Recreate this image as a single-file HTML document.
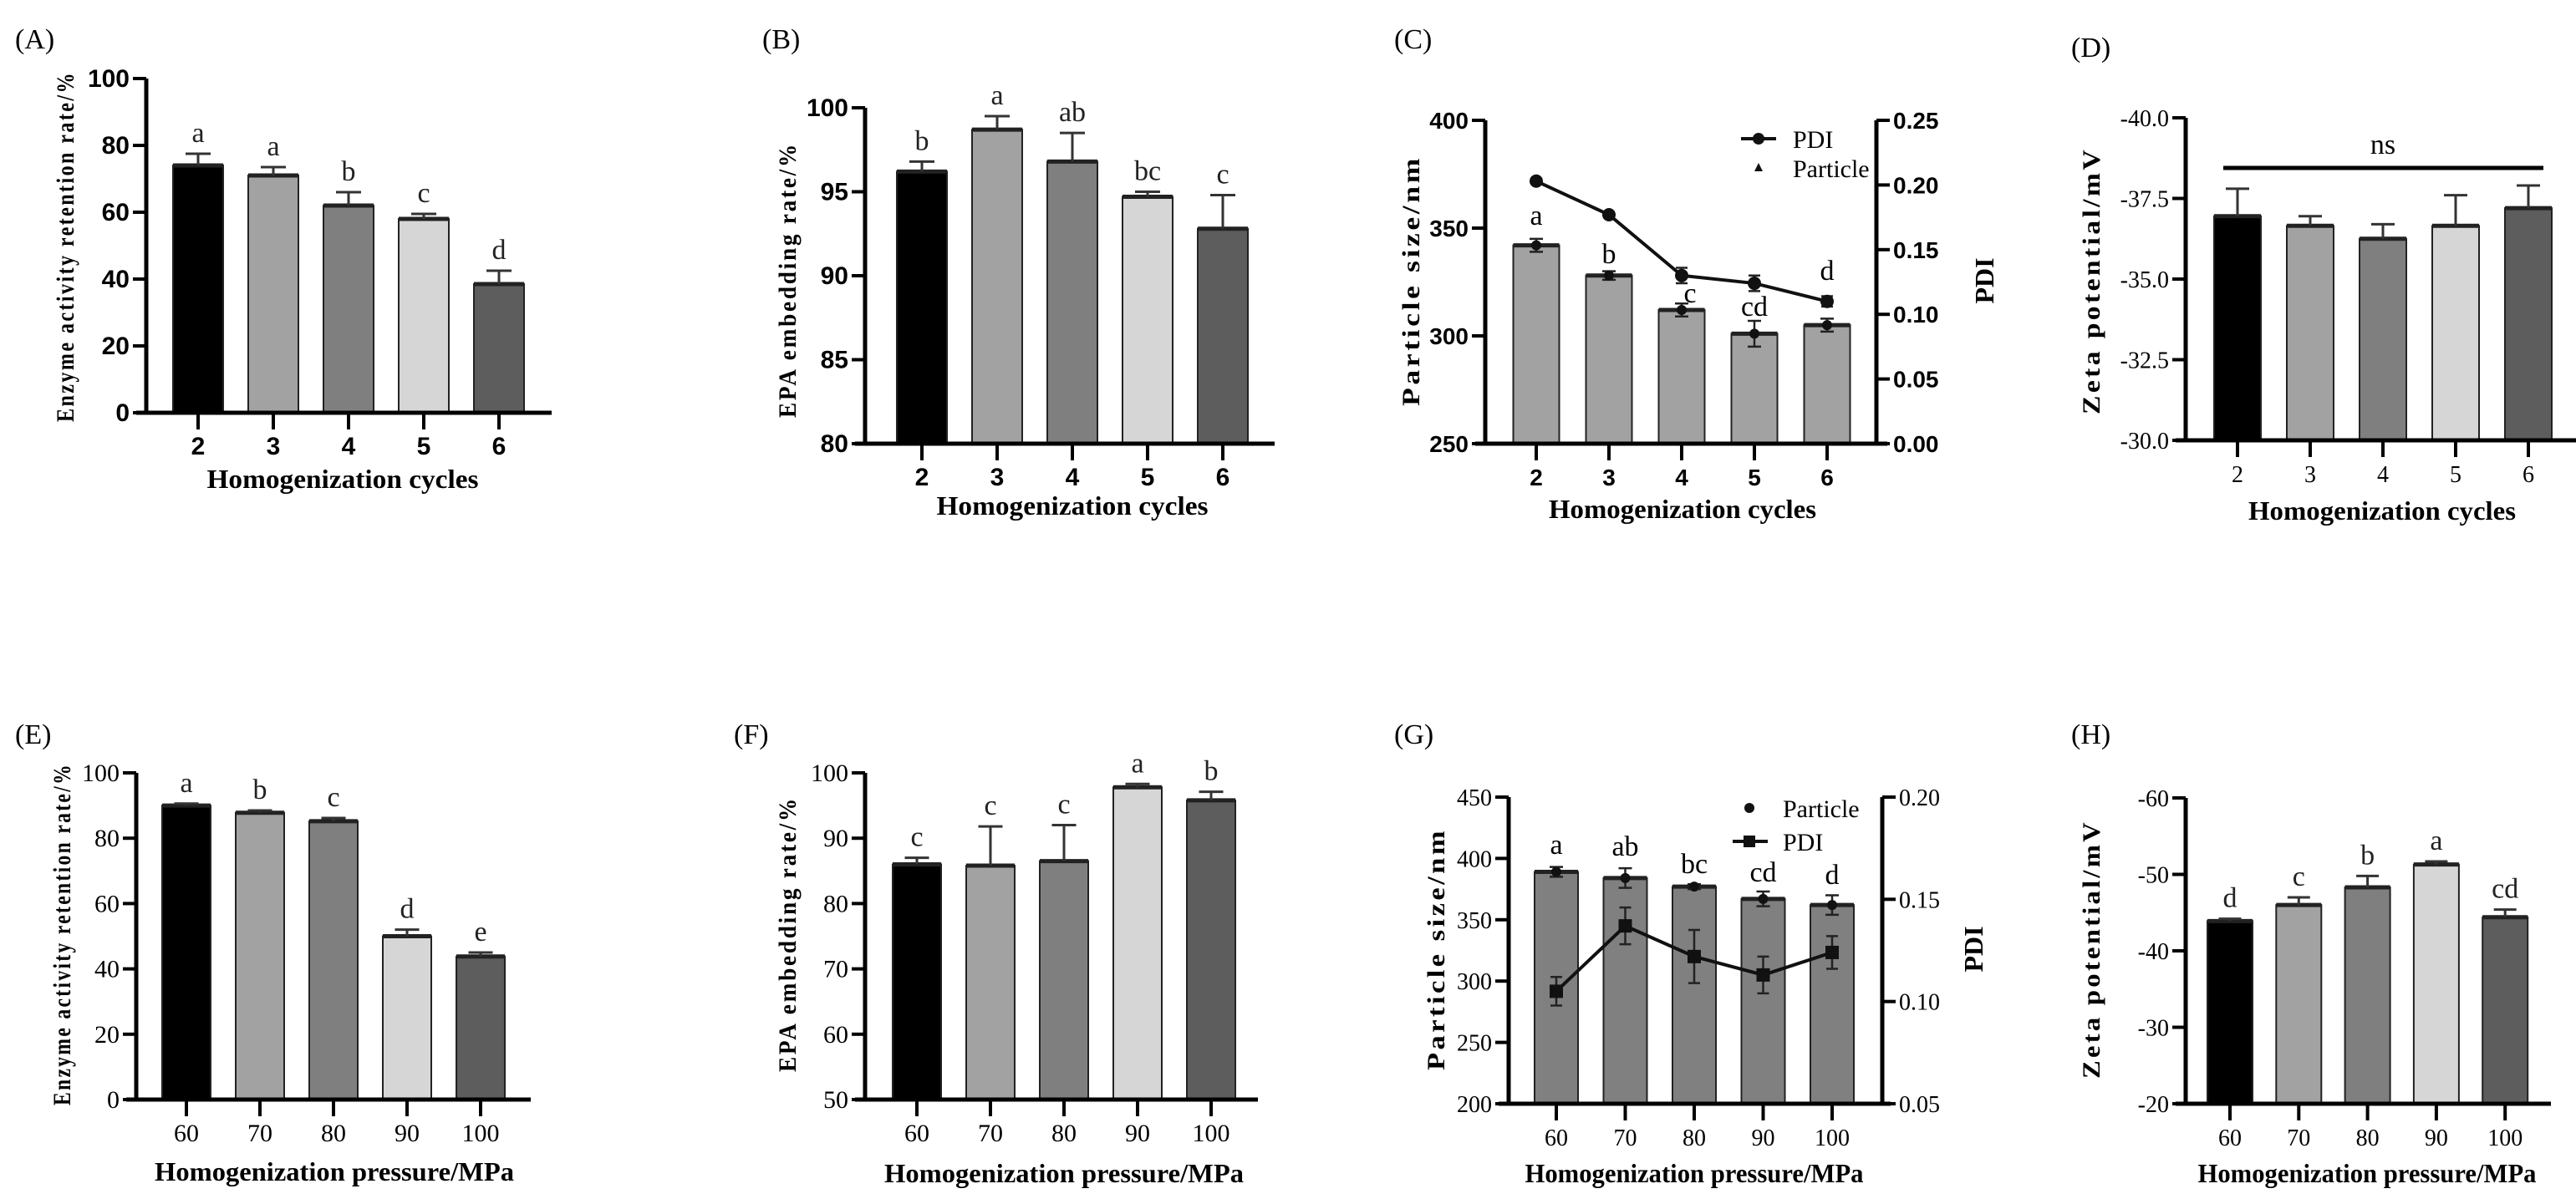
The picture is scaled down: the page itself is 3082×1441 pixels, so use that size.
<!DOCTYPE html>
<html><head><meta charset="utf-8"><style>
html,body{margin:0;padding:0;background:#fff;}
svg{display:block;}
.ser{font-family:"Liberation Serif",serif;}
.san{font-family:"Liberation Sans",sans-serif;}
</style></head><body>
<svg id="fig" width="3082" height="1441" viewBox="0 0 3082 1441" xmlns="http://www.w3.org/2000/svg"></svg>
<script>
const cyclesCats = ['2','3','4','5','6'];
const pressureCats = ['60','70','80','90','100'];
const aVals = [74, 71, 62, 58, 38.5];
const aErr = [3.5, 2.5, 4, 1.5, 4];
const aLetters = ['a','a','b','c','d'];
const bVals = [96.2, 98.7, 96.8, 94.7, 92.8];
const bErr = [0.6, 0.8, 1.7, 0.3, 2.0];
const bLetters = ['b','a','ab','bc','c'];
const cParticle = [342, 328, 312, 301, 305];
const cParticleErr = [3, 2, 3, 6, 3];
const cPdi = [0.203, 0.177, 0.130, 0.124, 0.110];
const cPdiErr = [0.002, 0.002, 0.006, 0.006, 0.004];
const cLetters = ['a','b','c','cd','d'];
const dVals = [-36.95, -36.65, -36.25, -36.65, -37.2];
const dErr = [0.85, 0.3, 0.45, 0.95, 0.7];
const eVals = [90, 87.8, 85.2, 50, 43.8];
const eErr = [0.6, 0.7, 1.0, 2.0, 1.2];
const eLetters = ['a','b','c','d','e'];
const fVals = [86, 85.8, 86.5, 97.8, 95.8];
const fErr = [1.0, 6.0, 5.5, 0.5, 1.3];
const fLetters = ['c','c','c','a','b'];
const gParticle = [389, 384, 377, 367, 362];
const gParticleErr = [4, 8, 2, 6, 8];
const gPdi = [0.105, 0.137, 0.122, 0.113, 0.124];
const gPdiErr = [0.007, 0.009, 0.013, 0.009, 0.008];
const gLetters = ['a','ab','bc','cd','d'];
const hVals = [-43.9, -46.0, -48.3, -51.3, -44.4];
const hErr = [0.3, 1.0, 1.5, 0.4, 1.0];
const hLetters = ['d','c','b','a','cd'];
const ticksA = [0,20,40,60,80,100];
const ticksB = [80,85,90,95,100];
const ticksCL = [250,300,350,400];
const ticksCR = ['0.00','0.05','0.10','0.15','0.20','0.25'];
const ticksD = ['-40.0','-37.5','-35.0','-32.5','-30.0'];
const ticksE = [0,20,40,60,80,100];
const ticksF = [50,60,70,80,90,100];
const ticksGL = [200,250,300,350,400,450];
const ticksGR = ['0.05','0.10','0.15','0.20'];
const ticksH = [-60,-50,-40,-30,-20];
const colorsFive = ['#000000','#a2a2a2','#7f7f7f','#d6d6d6','#5d5d5d'];

const svg = document.getElementById('fig');
const NS = 'http://www.w3.org/2000/svg';
function mk(tag, attrs, parent, text){
  const e = document.createElementNS(NS, tag);
  for (const k in attrs) e.setAttribute(k, attrs[k]);
  if (text !== undefined) e.textContent = text;
  (parent || svg).appendChild(e);
  return e;
}
function scale(min, max, pMin, pMax){ return v => pMin + (v - min) / (max - min) * (pMax - pMin); }

function panel(o){
  const g = mk('g', {});
  
  
  const y = scale(o.min, o.max, o.yb, o.yt);
  const x = i => o.x0 + i * o.dx;
  const lab = mk('text', {x:o.lx, y:o.ly, 'font-size':34, class:'ser'}, g, o.label);
  
  
  if (o.vals){
    o.vals.forEach((v,i)=>{
      const top = y(v), bot = o.yb;
      const r = mk('rect', {x:x(i)-o.bw/2, y:Math.min(top,bot), width:o.bw, height:Math.abs(bot-top), fill:o.colors[i], stroke:'#222', 'stroke-width':2}, g);
      
      
      mk('line', {x1:x(i)-o.bw/2, x2:x(i)+o.bw/2, y1:top, y2:top, stroke:'#222', 'stroke-width':5}, g);
      if (o.errs){
        const et = y(v + (o.inv ? -o.errs[i] : o.errs[i]));
        const eb = mk('path', {d:`M${x(i)} ${top} V${et} M${x(i)-o.bw/4} ${et} H${x(i)+o.bw/4}`, stroke:'#333', 'stroke-width':3, fill:'none'}, g);
        
        
      }
      if (o.letters){
        const et = o.errs ? y(v + (o.inv ? -o.errs[i] : o.errs[i])) : top;
        const t = mk('text', {x:x(i), y:et - 14, 'text-anchor':'middle', 'font-size':34, class:'ser', fill:'#222'}, g, o.letters[i]);
        
        
      }
    });
  }
  const ax = mk('path', {d:`M${o.ax} ${o.yt} V${o.yb} M${o.ax-12} ${o.yb} H${o.xEnd}`, stroke:'#000', 'stroke-width':5, fill:'none'}, g);
  
  
  o.ticks.forEach(t=>{
    const ty = y(parseFloat(t));
    mk('line', {x1:o.ax-16, x2:o.ax, y1:ty, y2:ty, stroke:'#000', 'stroke-width':4}, g);
    const tl = mk('text', {x:o.ax-20, y:ty+10, 'text-anchor':'end', 'font-size':o.tfs||28, 'font-weight':o.tbold?'bold':'normal', class:o.tfont||'ser'}, g, String(t));
    
    
  });
  o.cats.forEach((c,i)=>{
    mk('line', {x1:x(i), x2:x(i), y1:o.yb, y2:o.yb+20, stroke:'#000', 'stroke-width':4}, g);
    const tl = mk('text', {x:x(i), y:o.yb+50, 'text-anchor':'middle', 'font-size':o.tfs||28, 'font-weight':o.tbold?'bold':'normal', class:o.tfont||'ser'}, g, c);
    
    
  });
  const xt = mk('text', {x:o.xtx, y:o.xty, 'text-anchor':'middle', 'font-size':32, 'font-weight':'bold', class:'ser', textLength:o.xtl, lengthAdjust:'spacingAndGlyphs'}, g, o.xtitle);
  
  
  const yt = mk('text', {x:0, y:0, 'text-anchor':'middle', 'font-size':30, 'font-weight':'bold', class:'ser', 'letter-spacing':3, transform:`translate(${o.ytx},${o.yty}) rotate(-90)`, textLength:o.ytl, lengthAdjust:'spacingAndGlyphs'}, g, o.ytitle);
  
  
  return {g, x, y};
}

function dualPanel(o){
  const p = panel(o);
  const g = p.g;
  const yr = scale(o.rmin, o.rmax, o.yb, o.yt);
  mk('path', {d:`M${o.rax} ${o.yt} V${o.yb+2}`, stroke:'#000', 'stroke-width':5}, g);
  o.rticks.forEach(t=>{
    const ty = yr(parseFloat(t));
    mk('line', {x1:o.rax, x2:o.rax+16, y1:ty, y2:ty, stroke:'#000', 'stroke-width':4}, g);
    const tl = mk('text', {x:o.rax+20, y:ty+10, 'font-size':o.tfs||28, 'font-weight':o.tbold?'bold':'normal', class:o.tfont||'ser'}, g, t);
    
    
  });
  const rt = mk('text', {x:0, y:0, 'text-anchor':'middle', 'font-size':32, 'font-weight':'bold', class:'ser', transform:`translate(${o.rtx},${o.yty}) rotate(-90)`}, g, 'PDI');
  
  
  o.vals.forEach((v,i)=>{
    const a = p.y(v + o.pErr[i]), b = p.y(v - o.pErr[i]);
    mk('path', {d:`M${p.x(i)} ${a} V${b} M${p.x(i)-8} ${a} H${p.x(i)+8} M${p.x(i)-8} ${b} H${p.x(i)+8}`, stroke:'#222', 'stroke-width':2.5, fill:'none'}, g);
    const m = mk('circle', {cx:p.x(i), cy:p.y(v), r:6, fill:'#111'}, g);
    
    
  });
  const pts = o.pdi.map((v,i)=>`${p.x(i)},${yr(v)}`).join(' ');
  const ln = mk('polyline', {points:pts, fill:'none', stroke:'#111', 'stroke-width':4}, g);
  
  
  o.pdi.forEach((v,i)=>{
    const a = yr(v + o.pdiErr[i]), b = yr(v - o.pdiErr[i]);
    mk('path', {d:`M${p.x(i)} ${a} V${b} M${p.x(i)-7} ${a} H${p.x(i)+7} M${p.x(i)-7} ${b} H${p.x(i)+7}`, stroke:'#222', 'stroke-width':2.5, fill:'none'}, g);
    const m = o.square ? mk('rect', {x:p.x(i)-8, y:yr(v)-8, width:16, height:16, fill:'#111'}, g) : mk('circle', {cx:p.x(i), cy:yr(v), r:8, fill:'#111'}, g);
    
    
  });
  return p;
}

panel({name:'panel-a', label:'(A)', lx:18, ly:58, cats:cyclesCats, vals:aVals, errs:aErr, letters:aLetters, colors:colorsFive,
  min:0, max:100, yb:494, yt:94, ax:175, xEnd:660, x0:237, dx:90, bw:60, ticks:ticksA, tfs:30, tbold:true, tfont:'san',
  xtitle:'Homogenization cycles', xtx:410, xty:584, xtl:325, ytitle:'Enzyme activity retention rate/%', ytx:88, yty:295, ytl:420});
panel({name:'panel-b', label:'(B)', lx:912, ly:58, cats:cyclesCats, vals:bVals, errs:bErr, letters:bLetters, colors:colorsFive,
  min:80, max:100, yb:531, yt:129, ax:1035, xEnd:1525, x0:1103, dx:90, bw:60, ticks:ticksB, tfs:30, tbold:true, tfont:'san',
  xtitle:'Homogenization cycles', xtx:1283, xty:616, xtl:325, ytitle:'EPA embedding rate/%', ytx:952, yty:335, ytl:330});
const pc = dualPanel({name:'panel-c', label:'(C)', lx:1668, ly:58, cats:cyclesCats, vals:cParticle, pErr:cParticleErr, letters:null, colors:Array(5).fill('#a2a2a2'),
  min:250, max:400, yb:531, yt:144, ax:1777, xEnd:2258, x0:1838, dx:87, bw:55, ticks:ticksCL, tfs:28, tbold:true, tfont:'san',
  rmin:0, rmax:0.25, rax:2245, rticks:ticksCR, rtx:2385, pdi:cPdi, pdiErr:cPdiErr,
  xtitle:'Homogenization cycles', xtx:2013, xty:620, xtl:320, ytitle:'Particle size/nm', ytx:1698, yty:336, ytl:300});
[[0,269],[1,315],[2,362],[3,378],[4,335]].forEach(([i,yy])=>{
  const t = mk('text', {x:pc.x(i)+(i===2?10:0), y:yy, 'text-anchor':'middle', 'font-size':34, class:'ser'}, pc.g, cLetters[i]);
  
  
});
{
  const lg = mk('g', {}, pc.g);
  
  
  mk('line', {x1:2083, x2:2125, y1:166, y2:166, stroke:'#111', 'stroke-width':4}, lg);
  mk('circle', {cx:2104, cy:166, r:7, fill:'#111'}, lg);
  mk('text', {x:2145, y:177, 'font-size':30, class:'ser'}, lg, 'PDI');
  mk('path', {d:'M2104 195 L2099 205 L2109 205 Z', fill:'#111'}, lg);
  mk('text', {x:2145, y:212, 'font-size':30, class:'ser'}, lg, 'Particle');
}
const pd = panel({name:'panel-d', label:'(D)', lx:2478, ly:68, cats:cyclesCats, vals:dVals, errs:dErr, letters:null, colors:colorsFive, inv:true,
  min:-30, max:-40, yb:527, yt:141, ax:2615, xEnd:3082, x0:2677, dx:87, bw:56, ticks:ticksD, tfs:28,
  xtitle:'Homogenization cycles', xtx:2850, xty:622, xtl:320, ytitle:'Zeta potential/mV', ytx:2512, yty:336, ytl:320});
{
  const ns = mk('path', {d:'M2660 201 H3043', stroke:'#000', 'stroke-width':5}, pd.g);
  
  
  mk('text', {x:2851, y:184, 'text-anchor':'middle', 'font-size':34, class:'ser'}, pd.g, 'ns');
}
panel({name:'panel-e', label:'(E)', lx:18, ly:890, cats:pressureCats, vals:eVals, errs:eErr, letters:eLetters, colors:colorsFive,
  min:0, max:100, yb:1316, yt:925, ax:163, xEnd:635, x0:223, dx:88, bw:58, ticks:ticksE, tfs:30,
  xtitle:'Homogenization pressure/MPa', xtx:400, xty:1413, xtl:430, ytitle:'Enzyme activity retention rate/%', ytx:84, yty:1118, ytl:410});
panel({name:'panel-f', label:'(F)', lx:878, ly:890, cats:pressureCats, vals:fVals, errs:fErr, letters:fLetters, colors:colorsFive,
  min:50, max:100, yb:1316, yt:925, ax:1035, xEnd:1505, x0:1097, dx:88, bw:58, ticks:ticksF, tfs:30,
  xtitle:'Homogenization pressure/MPa', xtx:1273, xty:1415, xtl:430, ytitle:'EPA embedding rate/%', ytx:952, yty:1118, ytl:330});
const pg = dualPanel({name:'panel-g', label:'(G)', lx:1668, ly:890, cats:pressureCats, vals:gParticle, pErr:gParticleErr, letters:null, colors:Array(5).fill('#808080'),
  min:200, max:450, yb:1321, yt:954, ax:1805, xEnd:2262, x0:1862, dx:82.5, bw:52, ticks:ticksGL, tfs:28,
  rmin:0.05, rmax:0.20, rax:2252, rticks:ticksGR, rtx:2372, pdi:gPdi, pdiErr:gPdiErr, square:true,
  xtitle:'Homogenization pressure/MPa', xtx:2027, xty:1415, xtl:405, ytitle:'Particle size/nm', ytx:1728, yty:1136, ytl:290});
[[0,1022],[1,1024],[2,1045],[3,1055],[4,1058]].forEach(([i,yy])=>{
  const t = mk('text', {x:pg.x(i), y:yy, 'text-anchor':'middle', 'font-size':34, class:'ser'}, pg.g, gLetters[i]);
  
  
});
{
  const lg = mk('g', {}, pg.g);
  
  
  mk('circle', {cx:2093, cy:967, r:6, fill:'#111'}, lg);
  mk('text', {x:2133, y:978, 'font-size':30, class:'ser'}, lg, 'Particle');
  mk('line', {x1:2073, x2:2115, y1:1007, y2:1007, stroke:'#111', 'stroke-width':4}, lg);
  mk('rect', {x:2086, y:1000, width:14, height:14, fill:'#111'}, lg);
  mk('text', {x:2133, y:1018, 'font-size':30, class:'ser'}, lg, 'PDI');
}
panel({name:'panel-h', label:'(H)', lx:2478, ly:890, cats:pressureCats, vals:hVals, errs:hErr, letters:hLetters, colors:colorsFive, inv:true,
  min:-20, max:-60, yb:1321, yt:955, ax:2615, xEnd:3052, x0:2668, dx:82.3, bw:54, ticks:ticksH, tfs:28,
  xtitle:'Homogenization pressure/MPa', xtx:2832, xty:1415, xtl:405, ytitle:'Zeta potential/mV', ytx:2512, yty:1136, ytl:310});
</script>
</body></html>
